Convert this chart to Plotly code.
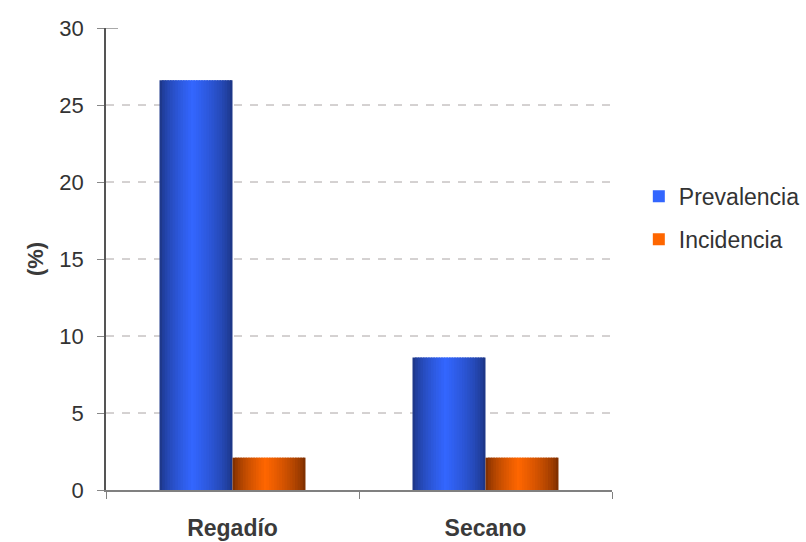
import plotly.graph_objects as go

# Data
categories = ["Regadío", "Secano"]
prevalencia = [26.6, 8.6]
incidencia = [2.1, 2.1]
series_names = ["Prevalencia", "Incidencia"]
y_ticks = [0, 5, 10, 15, 20, 25, 30]

# Cylinder-like horizontal shading: edge colour -> highlight -> edge colour
shading = {
    "Prevalencia": ((0x1a, 0x30, 0x78), (0x33, 0x66, 0xff)),
    "Incidencia": ((0x6e, 0x28, 0x00), (0xff, 0x66, 0x00)),
}

GROUP_WIDTH = 0.577          # fraction of a category occupied by both bars
BAR_W = GROUP_WIDTH / 2
N_SLICES = 28
PEAK = 0.45
FONT = "Liberation Sans, Arial, sans-serif"


def shade(t, edge, peak):
    # t in [0,1] across the bar; brightness rises to PEAK then falls back
    if t <= PEAK:
        f = t / PEAK
    else:
        f = (1 - t) / (1 - PEAK)
    f = f ** 0.6
    return "rgb({},{},{})".format(*[round(e + (p - e) * f) for e, p in zip(edge, peak)])


fig = go.Figure()

for s_idx, (name, values) in enumerate(zip(series_names, [prevalencia, incidencia])):
    edge, peak = shading[name]
    start = -BAR_W + s_idx * BAR_W
    step = BAR_W / N_SLICES
    for k in range(N_SLICES):
        t = (k + 0.5) / N_SLICES
        # slight overlap between slices avoids hairline seams
        w = step * 1.6 if k < N_SLICES - 1 else step
        fig.add_trace(go.Bar(
            x=categories,
            y=values,
            offset=start + k * step,
            width=w,
            marker=dict(color=shade(t, edge, peak), line=dict(width=0)),
            name=name,
            legendgroup=name,
            showlegend=(k == int(N_SLICES * PEAK)),
            hovertemplate="%{x}: %{y}<extra>" + name + "</extra>",
        ))

# Dashed horizontal gridlines (the top of the axis carries none)
for v in y_ticks[1:-1]:
    fig.add_shape(type="line", xref="paper", yref="y", x0=0, x1=1, y0=v, y1=v,
                  line=dict(color="#aaa4a4", width=1, dash="8px,8px"), layer="below")
fig.add_shape(type="line", xref="paper", yref="y", x0=0, x1=12 / 506, y0=30, y1=30,
              line=dict(color="#555555", width=1))

fig.update_layout(
    width=806, height=542,
    margin=dict(l=106, r=194, t=28, b=52, autoexpand=False),
    paper_bgcolor="white", plot_bgcolor="white",
    barmode="overlay",
    font=dict(family=FONT, color="#333333", size=22),
    legend=dict(
        x=1.053, xanchor="left", y=0.589, yanchor="middle",
        font=dict(size=23, color="#333333", family=FONT),
        tracegroupgap=10, traceorder="grouped",
    ),
    showlegend=True,
)

fig.update_xaxes(
    type="category",
    range=[-0.5, 1.5],
    showline=True, linecolor="#808080", linewidth=2,
    ticks="outside", tickson="boundaries", ticklen=7, tickcolor="#808080",
    tickfont=dict(size=23, color="#3a3a3a", family=FONT, weight="bold"),
    ticklabelstandoff=16,
    showgrid=False, zeroline=False,
)

fig.update_yaxes(
    range=[0, 30],
    tickvals=y_ticks,
    showline=True, linecolor="#555555", linewidth=1.5,
    ticks="outside", ticklen=7, tickcolor="#888888",
    tickfont=dict(size=22, color="#333333", family=FONT),
    ticklabelstandoff=9,
    showgrid=False, zeroline=False,
    title=dict(text="<b>(%)</b>", font=dict(size=22, color="#3a3a3a", family=FONT), standoff=10),
)

fig.write_html("out.html")
